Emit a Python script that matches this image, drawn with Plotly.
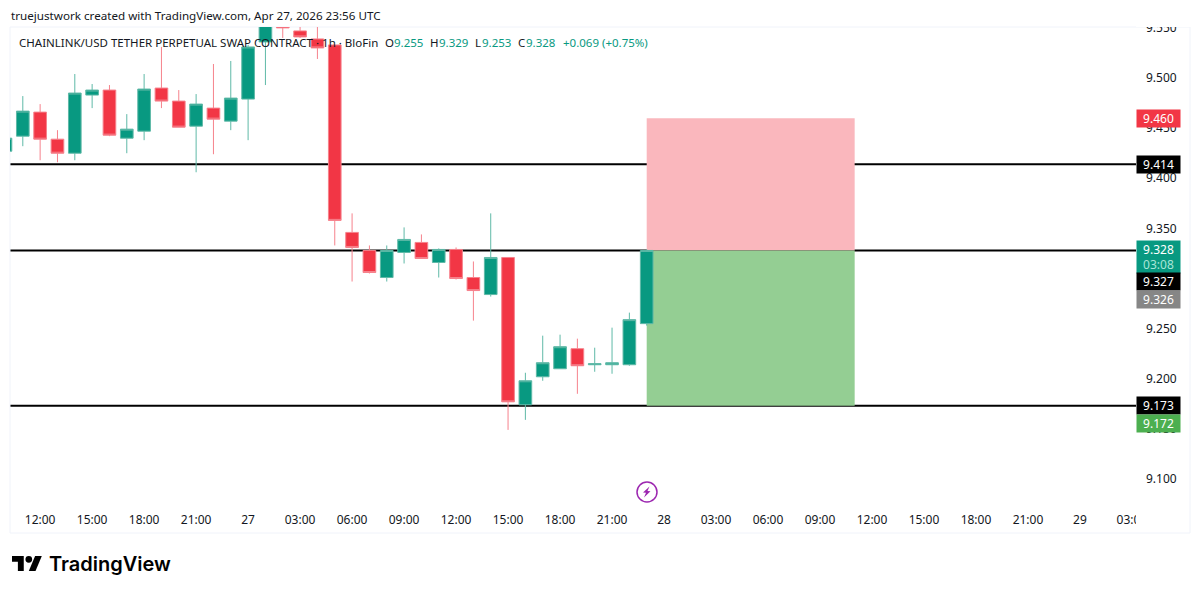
import pandas as pd
import plotly.graph_objects as go

# hourly bars, 26 Apr 10:00 to 27 Apr 23:00
times = pd.date_range("2026-04-26 10:00", periods=38, freq="h")
opens = [9.427, 9.442, 9.466, 9.439, 9.425, 9.483, 9.488, 9.440, 9.447, 9.490, 9.477, 9.452, 9.470,
         9.457, 9.479, 9.536, 9.560, 9.547, 9.539, 9.533, 9.346, 9.328, 9.301, 9.326, 9.336, 9.316,
         9.329, 9.301, 9.284, 9.321, 9.174, 9.202, 9.210, 9.230, 9.214, 9.214, 9.214, 9.255]
highs = [9.441, 9.482, 9.474, 9.448, 9.504, 9.494, 9.493, 9.464, 9.504, 9.531, 9.488, 9.484, 9.514,
         9.517, 9.533, 9.565, 9.565, 9.560, 9.555, 9.533, 9.365, 9.333, 9.333, 9.351, 9.344, 9.330,
         9.331, 9.317, 9.365, 9.321, 9.206, 9.243, 9.244, 9.240, 9.231, 9.251, 9.266, 9.329]
lows = [9.426, 9.432, 9.418, 9.416, 9.418, 9.470, 9.442, 9.425, 9.438, 9.470, 9.451, 9.406, 9.424,
        9.448, 9.438, 9.493, 9.540, 9.540, 9.519, 9.333, 9.297, 9.305, 9.297, 9.315, 9.320, 9.301,
        9.299, 9.258, 9.282, 9.149, 9.159, 9.198, 9.210, 9.185, 9.207, 9.205, 9.213, 9.253]
closes = [9.440, 9.467, 9.439, 9.425, 9.485, 9.488, 9.443, 9.449, 9.489, 9.477, 9.451, 9.474, 9.459,
          9.480, 9.531, 9.558, 9.550, 9.541, 9.530, 9.358, 9.331, 9.306, 9.328, 9.339, 9.320, 9.329,
          9.300, 9.288, 9.321, 9.177, 9.198, 9.216, 9.232, 9.213, 9.215, 9.216, 9.259, 9.328]

tick_times = ["2026-04-26 12:00", "2026-04-26 15:00", "2026-04-26 18:00", "2026-04-26 21:00", "2026-04-27 00:00",
              "2026-04-27 03:00", "2026-04-27 06:00", "2026-04-27 09:00", "2026-04-27 12:00", "2026-04-27 15:00",
              "2026-04-27 18:00", "2026-04-27 21:00", "2026-04-28 00:00", "2026-04-28 03:00", "2026-04-28 06:00",
              "2026-04-28 09:00", "2026-04-28 12:00", "2026-04-28 15:00", "2026-04-28 18:00", "2026-04-28 21:00",
              "2026-04-29 00:00", "2026-04-29 03:00"]
tick_labels = ["12:00", "15:00", "18:00", "21:00", "27", "03:00", "06:00", "09:00", "12:00", "15:00", "18:00",
               "21:00", "28", "03:00", "06:00", "09:00", "12:00", "15:00", "18:00", "21:00", "29", "03:00"]

levels = [9.414, 9.328, 9.173]
stop_price = 9.460
entry_price = 9.328
target_price = 9.173
box_start = "2026-04-27 23:00"
box_end = "2026-04-28 11:00"

UP = "#089981"
DOWN = "#f23645"
TEXT = "#131722"
FONT = "Noto Sans"

# plot area in page pixels
LEFT, RIGHT, TOP, BOTTOM = 10, 1136, 27, 511


def px_x(x):
    return (x - LEFT) / (RIGHT - LEFT)


def px_y(y):
    return (BOTTOM - y) / (BOTTOM - TOP)


def px_path(points):
    return "M" + " L".join(f"{px_x(x):.5f},{px_y(y):.5f}" for x, y in points) + " Z"


def label(y, text, bg, height=17, shift=0, color="white"):
    return dict(xref="paper", yref="y", x=1, y=y, xanchor="left", yanchor="middle", yshift=shift,
                text=text, width=43, height=height, bgcolor=bg, borderpad=0, showarrow=False,
                font=dict(family=FONT, size=12, color=color))


def text_at(x, y, text, color=TEXT, size=12, family=FONT, weight=None):
    font = dict(family=family, size=size, color=color)
    if weight:
        font["weight"] = weight
    return dict(xref="paper", yref="paper", x=px_x(x), y=px_y(y), xanchor="left", yanchor="middle",
                text=text, showarrow=False, borderpad=0, font=font)


fig = go.Figure(go.Candlestick(
    x=times, open=opens, high=highs, low=lows, close=closes,
    increasing=dict(line=dict(color="#5fb9a7", width=1), fillcolor=UP),
    decreasing=dict(line=dict(color="#f6828c", width=1), fillcolor=DOWN),
    whiskerwidth=0, hoverinfo="skip",
))

shapes = [
    dict(type="rect", layer="below", xref="x", yref="y", x0=box_start, x1=box_end, y0=entry_price, y1=stop_price,
         fillcolor="#fab7bd", line_width=0),
    dict(type="rect", layer="below", xref="x", yref="y", x0=box_start, x1=box_end, y0=target_price, y1=entry_price,
         fillcolor="#94ce93", line_width=0),
]
for level in levels:
    shapes.append(dict(type="line", layer="below", xref="paper", yref="y", x0=0, x1=1, y0=level, y1=level,
                       line=dict(color="#000000", width=2)))

# cover what the pane would clip: top of the 9.550 label and the last time label
shapes.append(dict(type="rect", layer="above", xref="paper", yref="paper", x0=px_x(1136), x1=px_x(1190),
                   y0=px_y(27), y1=px_y(10), fillcolor="white", line_width=0))
shapes.append(dict(type="rect", layer="above", xref="paper", yref="paper", x0=px_x(1136), x1=px_x(1189),
                   y0=px_y(531), y1=px_y(511), fillcolor="white", line_width=0))

# pane border
shapes.append(dict(type="rect", layer="below", xref="paper", yref="paper", x0=px_x(10), x1=px_x(1190),
                   y0=px_y(533), y1=px_y(27), line=dict(color="#f0f3fa", width=1)))

# lightning marker
shapes.append(dict(type="circle", xref="paper", yref="paper", x0=px_x(637), x1=px_x(657),
                   y0=px_y(502), y1=px_y(482), line=dict(color="#9c27b0", width=1.5)))
shapes.append(dict(type="path", xref="paper", yref="paper", line_width=0, fillcolor="#9c27b0",
                   path=px_path([(649.5, 486.5), (643, 492.5), (646, 492.8), (644, 497.5), (650.5, 491.2),
                                 (647.5, 491)])))

# TradingView logo
lx, ly, ls = 12, 552.6, 0.84
shapes.append(dict(type="path", xref="paper", yref="paper", line_width=0, fillcolor="#000000",
                   path=px_path([(lx + a * ls, ly + b * ls) for a, b in
                                 [(14, 22), (7, 22), (7, 11), (0, 11), (0, 4), (14, 4)]])))
shapes.append(dict(type="path", xref="paper", yref="paper", line_width=0, fillcolor="#000000",
                   path=px_path([(lx + a * ls, ly + b * ls) for a, b in
                                 [(28, 22), (20, 22), (27.5, 4), (35.5, 4)]])))
shapes.append(dict(type="circle", xref="paper", yref="paper", line_width=0, fillcolor="#000000",
                   x0=px_x(lx + 16 * ls), x1=px_x(lx + 24 * ls), y0=px_y(ly + 12 * ls), y1=px_y(ly + 4 * ls)))

annotations = [
    text_at(10, 15, "truejustwork created with TradingView.com, Apr 27, 2026 23:56 UTC", size=11.65),
    text_at(18, 42.5, "CHAINLINK/USD TETHER PERPETUAL SWAP CONTRACT · 1h · BloFin", size=11.5),
    text_at(384, 42.5, "O", size=11.5), text_at(392.7, 42.5, f"{opens[-1]:.3f}", UP, 11.5),
    text_at(429, 42.5, "H", size=11.5), text_at(438, 42.5, f"{highs[-1]:.3f}", UP, 11.5),
    text_at(474, 42.5, "L", size=11.5), text_at(481, 42.5, f"{lows[-1]:.3f}", UP, 11.5),
    text_at(517, 42.5, "C", size=11.5), text_at(525, 42.5, f"{closes[-1]:.3f}", UP, 11.5),
    text_at(561.7, 42.5, "+0.069 (+0.75%)", UP, 11.5),
    text_at(48, 564, "TradingView", "#000000", 20, "Inter", 600),
    label(stop_price, "9.460", DOWN),
    label(levels[0], "9.414", "#000000"),
    label(entry_price, "9.328<br><span style='color:#a8e6d8'>03:08</span>", UP, height=32, shift=-7),
    label(9.327, "9.327", "#000000", shift=-30),
    label(9.326, "9.326", "#868686", shift=-47),
    label(levels[2], "9.173", "#000000"),
    label(9.172, "9.172", "#4caf50", shift=-17),
]

fig.update_layout(
    width=1200, height=594, showlegend=False, boxgap=0.27, boxgroupgap=0,
    margin=dict(l=LEFT, r=1200 - RIGHT, t=TOP, b=594 - BOTTOM, pad=0),
    paper_bgcolor="white", plot_bgcolor="white",
    font=dict(family=FONT, size=12, color=TEXT),
    shapes=shapes, annotations=annotations,
    xaxis=dict(type="date", range=["2026-04-26 10:15:40", "2026-04-29 03:14:00"], rangeslider_visible=False,
               tickmode="array", tickvals=tick_times, ticktext=tick_labels, showgrid=False, zeroline=False,
               showline=False, ticks="", tickangle=0, automargin=False),
    yaxis=dict(side="right", range=[9.0681, 9.5509], tickmode="linear", tick0=9.1, dtick=0.05, tickformat=".3f",
               showgrid=False, zeroline=False, showline=False, ticks="", ticklabelstandoff=9, automargin=False),
)

fig.write_html("out.html", config={"displayModeBar": False},
               post_script="document.body.style.margin='0';")
